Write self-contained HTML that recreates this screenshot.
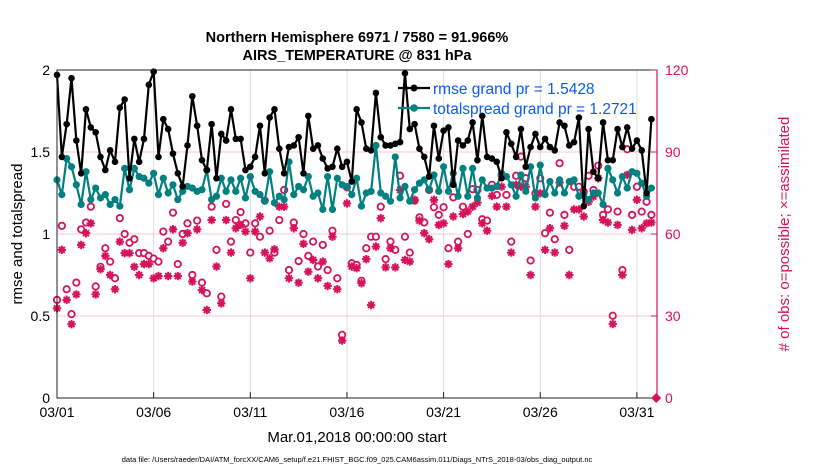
<!DOCTYPE html>
<html><head><meta charset="utf-8">
<style>
body{margin:0;background:#fff;}
svg{display:block;font-family:"Liberation Sans",Arial,sans-serif;}
</style></head>
<body>
<svg id="chart" width="830" height="470" viewBox="0 0 830 470">
  <rect width="830" height="470" fill="#fff"/>
  <g id="grid"></g>
  <g id="series"></g>
  <rect x="57" y="70" width="600" height="328" fill="none" stroke="#222" stroke-width="1"/>
  <line x1="657" y1="70" x2="657" y2="398" stroke="#d6135a" stroke-width="1.2"/>
  <g id="axes"></g>
  <text x="357" y="42" font-size="14.5" font-weight="bold" text-anchor="middle">Northern Hemisphere 6971 / 7580 = 91.966%</text>
  <text x="357" y="60" font-size="14.5" font-weight="bold" text-anchor="middle">AIRS_TEMPERATURE @ 831 hPa</text>
  <text transform="translate(22,234) rotate(-90)" font-size="15" text-anchor="middle">rmse and totalspread</text>
  <text transform="translate(789,234) rotate(-90)" font-size="15" fill="#d6135a" text-anchor="middle"># of obs: o=possible; ×=assimilated</text>
  <text x="357" y="442" font-size="15" text-anchor="middle">Mar.01,2018 00:00:00 start</text>
  <text x="357" y="462" font-size="7.5" text-anchor="middle">data file: /Users/raeder/DAI/ATM_forcXX/CAM6_setup/f.e21.FHIST_BGC.f09_025.CAM6assim.011/Diags_NTrS_2018-03/obs_diag_output.nc</text>
  <g>
    <line x1="398" y1="88" x2="430" y2="88" stroke="#000" stroke-width="2.2"/>
    <circle cx="414" cy="88" r="3.5" fill="#000"/>
    <text x="433" y="94" font-size="15.5" fill="#0a5af5">rmse grand pr = 1.5428</text>
    <line x1="398" y1="108" x2="430" y2="108" stroke="#008080" stroke-width="2.2"/>
    <circle cx="414" cy="108" r="3.8" fill="#008080"/>
    <text x="433" y="114" font-size="15.5" fill="#0a5af5">totalspread grand pr = 1.2721</text>
  </g>
</svg>
<script>
const tickDays = [0,5,10,15,20,25,30];
const tickLabels = ["03/01","03/06","03/11","03/16","03/21","03/26","03/31"];
const leftTicks = [0,0.5,1,1.5,2];
const leftTickLabels = ["0","0.5","1","1.5","2"];
const rightTicks = [0,30,60,90,120];
const rmse = [1.97,1.47,1.67,1.95,1.57,1.37,1.76,1.65,1.62,1.47,1.39,1.51,1.44,1.77,1.82,1.34,1.58,1.44,1.58,1.91,1.99,1.47,1.70,1.64,1.49,1.37,1.29,1.54,1.84,1.66,1.45,
1.39,1.67,1.34,1.61,1.57,1.76,1.58,1.58,1.39,1.41,1.47,1.66,1.37,1.71,1.76,1.52,1.37,1.53,1.54,1.59,1.37,1.72,1.52,1.54,1.46,1.40,1.41,1.52,1.41,1.44,1.32,
1.76,1.68,1.52,1.51,1.86,1.59,1.54,1.54,1.55,1.56,1.98,1.64,1.67,1.52,1.47,1.35,1.66,1.46,1.63,1.65,1.30,1.57,1.54,1.57,1.68,1.45,1.72,1.47,1.46,1.44,1.34,
1.62,1.55,1.47,1.64,1.41,1.53,1.61,1.53,1.58,1.53,1.51,1.68,1.66,1.54,1.56,1.71,1.17,1.64,1.38,1.34,1.68,1.45,1.45,1.64,1.53,1.65,1.52,1.57,1.51,1.25,1.70];
const spread = [1.33,1.24,1.46,1.41,1.30,1.18,1.38,1.21,1.28,1.22,1.24,1.18,1.21,1.17,1.40,1.27,1.40,1.35,1.34,1.31,1.37,1.24,1.34,1.25,1.30,1.21,1.26,1.29,1.28,1.26,1.27,
1.39,1.21,1.23,1.34,1.26,1.33,1.26,1.34,1.22,1.35,1.26,1.24,1.20,1.38,1.19,1.23,1.21,1.44,1.24,1.29,1.27,1.35,1.23,1.25,1.15,1.35,1.15,1.34,1.30,1.29,1.24,
1.34,1.17,1.25,1.26,1.54,1.25,1.23,1.20,1.47,1.22,1.29,1.20,1.27,1.31,1.33,1.27,1.36,1.26,1.41,1.26,1.37,1.23,1.40,1.23,1.40,1.22,1.33,1.28,1.28,1.29,1.37,
1.35,1.30,1.23,1.36,1.26,1.41,1.22,1.42,1.24,1.32,1.25,1.33,1.25,1.32,1.33,1.23,1.24,1.21,1.25,1.25,1.18,1.40,1.33,1.25,1.35,1.28,1.38,1.37,1.31,1.23,1.28];
const possible = [35.9,63.0,39.8,30.7,42.2,61.7,64.2,70.0,40.8,48,54.8,49.9,43.8,65.8,60.0,56.8,58.1,53,53,52,51,49.9,60.9,57.2,67.8,49,60,63.9,45,64.9,42.2,
38.3,70,54.2,37.1,71,57.2,65.1,68,63.9,53.2,63.9,59,72.2,61.2,53.2,65.1,76.1,46.8,64.2,50.1,60,52,57.2,48.1,56,46.8,61.2,43.8,23.1,77.1,49.3,
48.7,42.9,54.8,59,59,70,50.8,57.2,54.2,81.3,59,53.2,72.2,66.1,64.2,76.1,69.8,67,69.8,54.8,73.4,57.2,70,60,76.4,76.1,65.4,64.9,78,74.3,81.6,
74.3,57.2,81.3,88.3,80.4,50.3,74.9,80.4,60.3,67.8,58.1,85.9,67,54.2,77.3,77.3,75.5,81.3,76.1,85,67,69,30.1,68.2,46.8,91,67,77.3,68.2,71.8,67];
const assimilated = [32.8,54.2,35.9,27,37.9,56,60.3,63.9,37.9,47.1,52,45,39.8,57.2,53,53,48,45,49,49,43.8,44.6,54.8,44.6,61.7,44.6,56.8,60.3,42.6,61.7,39.5,
32.2,65.1,48.1,34.6,65.1,53.2,62.1,63.3,60.9,43.8,60.9,66.4,53.2,51.1,54.4,70,70,43.8,62.1,42.2,56.4,46.2,50.5,43.8,49.9,41,59,39.8,21,71.2,48.1,
47.5,42,50.8,34,55.4,65.8,47.8,54.8,47.8,76.1,50.5,49.9,72.5,64.9,60.3,58.1,72.5,63.3,63.9,49,66.4,54.8,67.3,68.2,70,71.5,63.9,61.2,73.9,70,77.3,
70,53.2,78,77.3,77.3,45,70,74.9,54.2,62.1,53.2,78.8,63,45,69,69,66.4,71.8,73.7,80.4,65.1,64.2,27.1,63.3,45,81.6,61.5,72.5,62.1,63.9,64.2];

const NS = "http://www.w3.org/2000/svg";
const X0 = 57, DAY = 19.33;
function xDay(d){ return X0 + d*DAY; }
function xIdx(i){ return xDay(i*0.25); }
function yL(v){ return 398 - v*164; }
function yR(c){ return 398 - c*82/30; }
function mk(tag, attrs, parent){ const e=document.createElementNS(NS,tag); for(const k in attrs) e.setAttribute(k,attrs[k]); parent.appendChild(e); return e; }

const grid = document.getElementById('grid');
const axes = document.getElementById('axes');
const series = document.getElementById('series');

tickDays.forEach((d,k)=>{
  const x = xDay(d);
  const gl = mk('line',{x1:x,y1:70,x2:x,y2:398,stroke:'#dcdcdc','stroke-width':1},grid);
  
  
  const tk = mk('line',{x1:x,y1:398,x2:x,y2:392,stroke:'#222'},axes);
  
  
  const t = mk('text',{x:x,y:417,'font-size':14,'text-anchor':'middle'},axes);
  t.textContent = tickLabels[k];
  
  
});
leftTicks.forEach((v,k)=>{
  const y = yL(v);
  if(v>0 && v<2){
    const gl = mk('line',{x1:57,y1:y,x2:657,y2:y,stroke:'#f5c8d8','stroke-width':1},grid);
    
    
  }
  const t = mk('text',{x:50,y:y+5,'font-size':14,'text-anchor':'end'},axes);
  t.textContent = leftTickLabels[k];
  
  
});
rightTicks.forEach(c=>{
  const y = yR(c);
  const tk = mk('line',{x1:651,y1:y,x2:657,y2:y,stroke:'#d6135a'},axes);
  
  
  const t = mk('text',{x:665,y:y+5,'font-size':14,fill:'#d6135a'},axes);
  t.textContent = String(c);
  
  
});

function star(x,y,parent){
  const s=4.2, d=s*0.707;
  const p = mk('path',{d:`M${x-s},${y}H${x+s}M${x},${y-s}V${y+s}M${x-d},${y-d}L${x+d},${y+d}M${x-d},${y+d}L${x+d},${y-d}`,stroke:'#d6135a','stroke-width':2,fill:'none'},parent);
  
  
}
possible.forEach((c,i)=>{
  const e = mk('circle',{cx:xIdx(i),cy:yR(c),r:3.2,fill:'#fff',stroke:'#d6135a','stroke-width':1.8},series);
  
  
});
assimilated.forEach((c,i)=>{ star(xIdx(i),yR(c),series); });
const endMark = mk('path',{d:`M${xDay(31)-5},398L${xDay(31)},393L${xDay(31)+5},398L${xDay(31)},403Z`,fill:'#d6135a'},series);



function line(vals,color,name,r){
  const pl = mk('polyline',{points:vals.map((v,i)=>xIdx(i)+','+yL(v)).join(' '),fill:'none',stroke:color,'stroke-width':2.2,'stroke-linejoin':'round'},series);
  
  
  vals.forEach((v,i)=>{
    const c = mk('circle',{cx:xIdx(i),cy:yL(v),r:r,fill:color},series);
    
    
  });
}
line(spread,'#008080','totalspread',3.6);
line(rmse,'#000000','rmse',3.3);
</script>
</body></html>
